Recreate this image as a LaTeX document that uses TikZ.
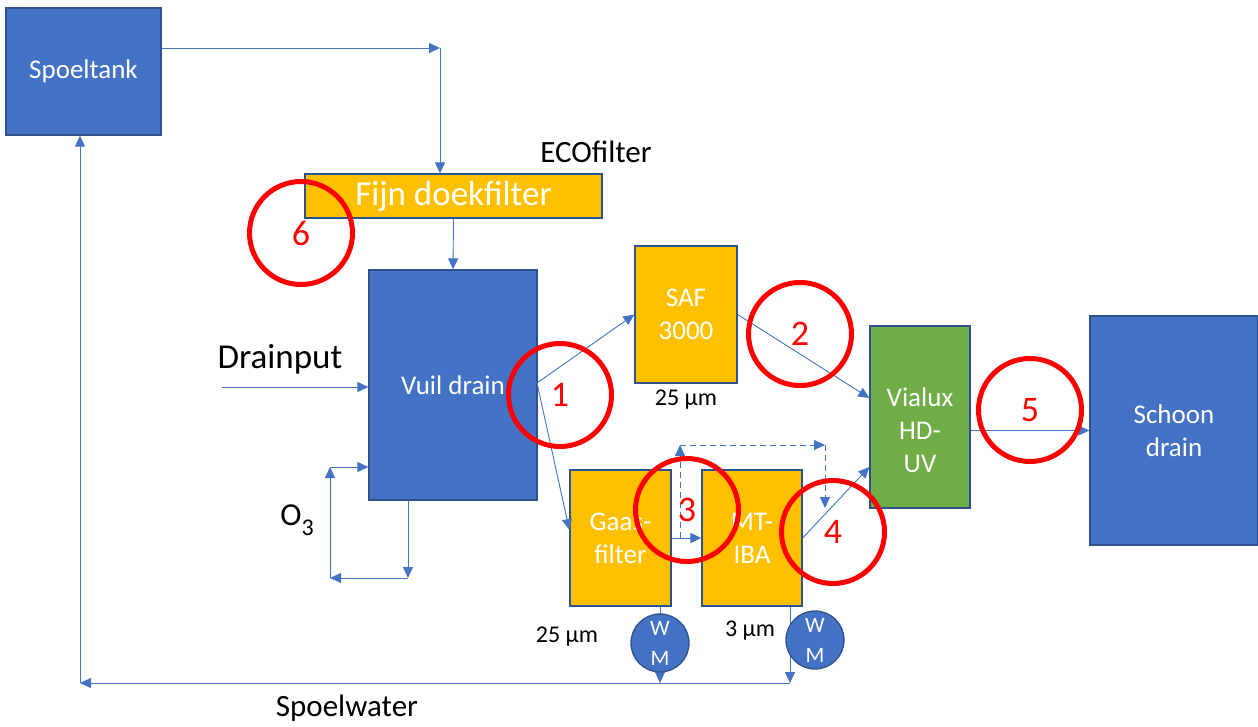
\documentclass[tikz,border=0pt]{standalone}
\usepackage{fontspec}
\setmainfont{Carlito}
\usetikzlibrary{arrows.meta}

\definecolor{tankblue}{HTML}{4472C4}
\definecolor{boxline}{HTML}{2F528F}
\definecolor{filterorange}{HTML}{FFC000}
\definecolor{uvgreen}{HTML}{70AD47}

\begin{document}
\begin{tikzpicture}[x=1pt,y=-1pt,
  box/.style={draw=boxline,line width=1.3pt,text=white,align=center,inner sep=0pt,
    font=\fontsize{27}{33}\selectfont},
  bluebox/.style={box,fill=tankblue},
  orangebox/.style={box,fill=filterorange},
  greenbox/.style={box,fill=uvgreen},
  flow/.style={draw=tankblue,line width=0.9pt,-{Triangle[length=11pt,width=10pt]}},
  dashflow/.style={flow,dash pattern=on 6pt off 4pt},
  ring/.style={circle,draw=red,line width=5pt,minimum size=103,inner sep=0pt,text=red,
    font=\fontsize{36}{36}\selectfont},
  wm/.style={circle,draw=boxline,line width=1.3pt,fill=tankblue,minimum size=58,inner sep=0pt,
    text=white,align=center,font=\fontsize{22}{30}\selectfont},
  caption/.style={text=black,font=\fontsize{24}{28}\selectfont}]
\useasboundingbox (0,0) rectangle (1258,727);

% tanks and filters
\node[bluebox,minimum width=155,minimum height=127] (spoeltank) at (83.5,71.5) {Spoeltank};
\node[orangebox,minimum width=297,minimum height=44,font=\fontsize{35}{40}\selectfont] (fijn) at (453.5,196) {Fijn doekfilter};
\node[bluebox,minimum width=168,minimum height=230] (vuil) at (453,385) {Vuil drain};
\node[orangebox,minimum width=102,minimum height=137] (saf) at (686,314.5) {SAF\\3000};
\node[orangebox,minimum width=101,minimum height=136] (gaas) at (620.5,538) {Gaas-\\filter};
\node[orangebox,minimum width=100,minimum height=136] (mtiba) at (752,538) {MT-\\IBA};
\node[greenbox,minimum width=100,minimum height=182] (vialux) at (920,417) {};
\node[box,draw=none] (vialuxtext) at ([yshift=-13]vialux.center) {Vialux\\HD-\\UV};
\node[bluebox,minimum width=168,minimum height=229] (schoon) at (1174,430.5) {Schoon\\drain};

% labels
\node[caption,font=\fontsize{31}{34}\selectfont] (eco) at (596,152) {ECOfilter};
\node[caption,font=\fontsize{35}{40}\selectfont] (drainput) at (280,359) {Drainput};
\node[caption,font=\fontsize{32}{36}\selectfont] (ozon) at (297,520) {O\raisebox{-0.3em}{\fontsize{24}{24}\selectfont 3}};
\node[caption] (safsize) at (686,400) {25 µm};
\node[caption] (gaassize) at (567,637) {25 µm};
\node[caption] (mtsize) at (750,631) {3 µm};
\node[caption,font=\fontsize{31}{34}\selectfont] (spoelwater) at (347,708) {Spoelwater};

% rinse water to the fine filter
\coordinate (tankout) at (161,48);
\coordinate (topbend) at (440,48);
\draw[flow] (tankout) -- (topbend);
\draw[flow] (topbend) -- (topbend |- fijn.north);
\draw[flow] (fijn.south) -- (vuil.north);

% drain input and ozone loop
\coordinate (drainin) at (222,387);
\draw[flow] (drainin) -- (vuil.west |- drainin);
\coordinate (o3a) at (408,578);
\coordinate (o3b) at (330,578);
\coordinate (o3c) at (330,467);
\draw[flow] (vuil.south -| o3a) -- (o3a);
\draw[flow] (o3a) -- (o3b);
\draw[flow] (o3b) -- (o3c);
\draw[flow] (o3c) -- (vuil.west |- o3c);

% main flow
\coordinate (split) at (537,383);
\draw[flow] (split) -- (saf.west);
\draw[flow] (split) -- ([yshift=8]gaas.west);
\draw[flow] (saf.east) -- ([yshift=19]vialux.west);
\draw[flow] (gaas.east) -- (mtiba.west);
\draw[flow] (mtiba.east) -- ([yshift=-50]vialux.west);
\draw[flow] (vialux.east |- schoon.west) -- (schoon.west);

% bypass
\coordinate (dash1) at (680,538);
\coordinate (dash2) at (680,445);
\coordinate (dash3) at (825,445);
\coordinate (dash4) at (825,508);
\draw[dashflow] (dash1) -- (dash2);
\draw[dashflow] (dash2) -- (dash3);
\draw[dashflow] (dash3) -- (dash4);

% rinse water back to the tank
\coordinate (ret1) at (660,683);
\coordinate (ret2) at (790,683);
\coordinate (ret3) at (80,683);
\draw[flow] (gaas.south -| ret1) -- (ret1);
\draw[flow] (mtiba.south -| ret2) -- (ret2);
\draw[flow] (ret2) -- (ret3);
\draw[flow] (ret3) -- (spoeltank.south -| ret3);

% water meters
\node[wm] (wm1) at (660,643) {W\\M};
\node[wm] (wm2) at (815,640) {W\\M};

% numbered points
\node[ring] (ring1) at (560,395) {1};
\node[ring] (ring2) at (800,334) {2};
\node[ring] (ring3) at (687,510) {3};
\node[ring] (ring4) at (833,532) {4};
\node[ring] (ring5) at (1030,410) {5};
\node[ring] (ring6) at (301,233) {6};
\end{tikzpicture}
\end{document}
